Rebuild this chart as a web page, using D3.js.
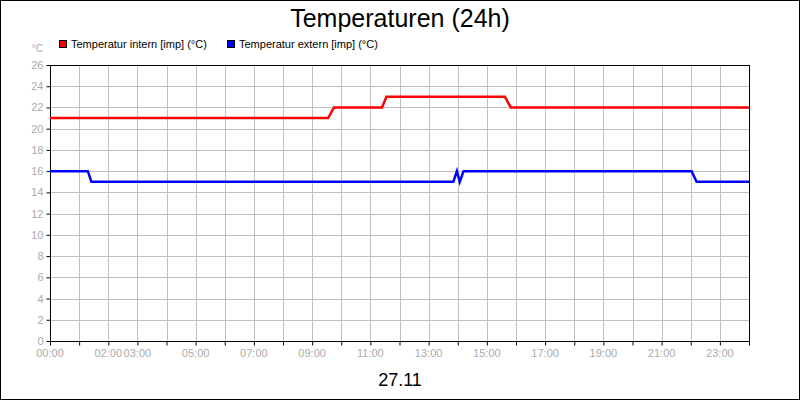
<!DOCTYPE html><html><head><meta charset="utf-8">
<script src="https://cdn.jsdelivr.net/npm/d3@7"></script>
<style>body{margin:0}svg{display:block;font-family:"Liberation Sans",Arial,sans-serif}</style></head><body>
<script>
const title="Temperaturen (24h)";
const dateLabel="27.11";
const seriesNames=["Temperatur intern [imp] (°C)","Temperatur extern [imp] (°C)"];
const seriesColors=["#ff0000","#0000ff"];
const internHours=[0,9.55,9.75,11.4,11.55,15.62,15.82,24];
const internVals=[21,21,22,22,23,23,22,22];
const externHours=[0,1.3,1.42,13.85,13.97,14.07,14.2,22.03,22.2,24];
const externVals=[16,16,15,15,16,15,16,16,15,15];
const yTicks=[0,2,4,6,8,10,12,14,16,18,20,22,24,26];
const xTickLabels=["00:00","02:00","03:00","05:00","07:00","09:00","11:00","13:00","15:00","17:00","19:00","21:00","23:00"];
const xTickLabelHours=[0,2,3,5,7,9,11,13,15,17,19,21,23];
const F="Liberation Sans";
const svg=d3.select("body").append("svg").attr("width",800).attr("height",400);
svg.append("rect").attr("x",0.5).attr("y",0.5).attr("width",799).attr("height",399).attr("fill","#fff").attr("stroke","#000");
const x=d3.scaleLinear().domain([0,24]).range([50,749]);
const y=d3.scaleLinear().domain([0,26]).range([341,65]);
svg.append("g").selectAll("line").data(d3.range(1,24)).join("line")
 .attr("x1",d=>Math.round(x(d))+0.5).attr("x2",d=>Math.round(x(d))+0.5).attr("y1",65).attr("y2",341).attr("stroke","#c0c0c0");
svg.append("g").selectAll("line").data(yTicks.slice(1)).join("line")
 .attr("x1",50).attr("x2",749).attr("y1",d=>Math.round(y(d))+0.5).attr("y2",d=>Math.round(y(d))+0.5).attr("stroke","#c0c0c0");
svg.append("rect").attr("x",50.5).attr("y",65.5).attr("width",699).attr("height",276).attr("fill","none").attr("stroke","#000");
const ya=svg.append("g").attr("transform","translate(50.5,0)").call(d3.axisLeft(y).tickValues(yTicks).tickSize(4).tickSizeOuter(0));
ya.select(".domain").remove();
ya.selectAll("line").attr("stroke","#000");
ya.selectAll("text").attr("fill","#aaa").attr("font-size",11).attr("font-family",F);
const xa=svg.append("g").attr("transform","translate(0,341.5)").call(d3.axisBottom(x).tickValues(d3.range(0,25)).tickSize(4).tickFormat(()=>"").tickSizeOuter(0));
xa.select(".domain").remove();xa.selectAll("line").attr("stroke","#000");
svg.append("g").selectAll("text").data(xTickLabelHours).join("text").attr("x",d=>x(d)).attr("y",357)
 .attr("text-anchor","middle").attr("fill","#aaa").attr("font-size",11).text((d,i)=>xTickLabels[i]);
svg.append("text").attr("x",43).attr("y",52).attr("text-anchor","end").attr("fill","#aaa").attr("font-size",10).text("°C");
const line=d3.line().x(d=>x(d[0])).y(d=>y(d[1]));
[[internHours,internVals],[externHours,externVals]].forEach((s,i)=>{
 svg.append("path").datum(s[0].map((h,j)=>[h,s[1][j]])).attr("d",line).attr("fill","none").attr("stroke",seriesColors[i]).attr("stroke-width",2.5);
});
const lx=[59,227];
seriesNames.forEach((n,i)=>{
 svg.append("rect").attr("x",lx[i]+0.5).attr("y",40.5).attr("width",7).attr("height",7).attr("fill",seriesColors[i]).attr("stroke","#000");
 svg.append("text").attr("x",lx[i]+12).attr("y",48).attr("font-size",11).attr("fill","#000").text(n);
});
svg.append("text").attr("x",400).attr("y",27).attr("text-anchor","middle").attr("font-size",25).text(title);
svg.append("text").attr("x",400).attr("y",386).attr("text-anchor","middle").attr("font-size",18).text(dateLabel);
</script></body></html>
